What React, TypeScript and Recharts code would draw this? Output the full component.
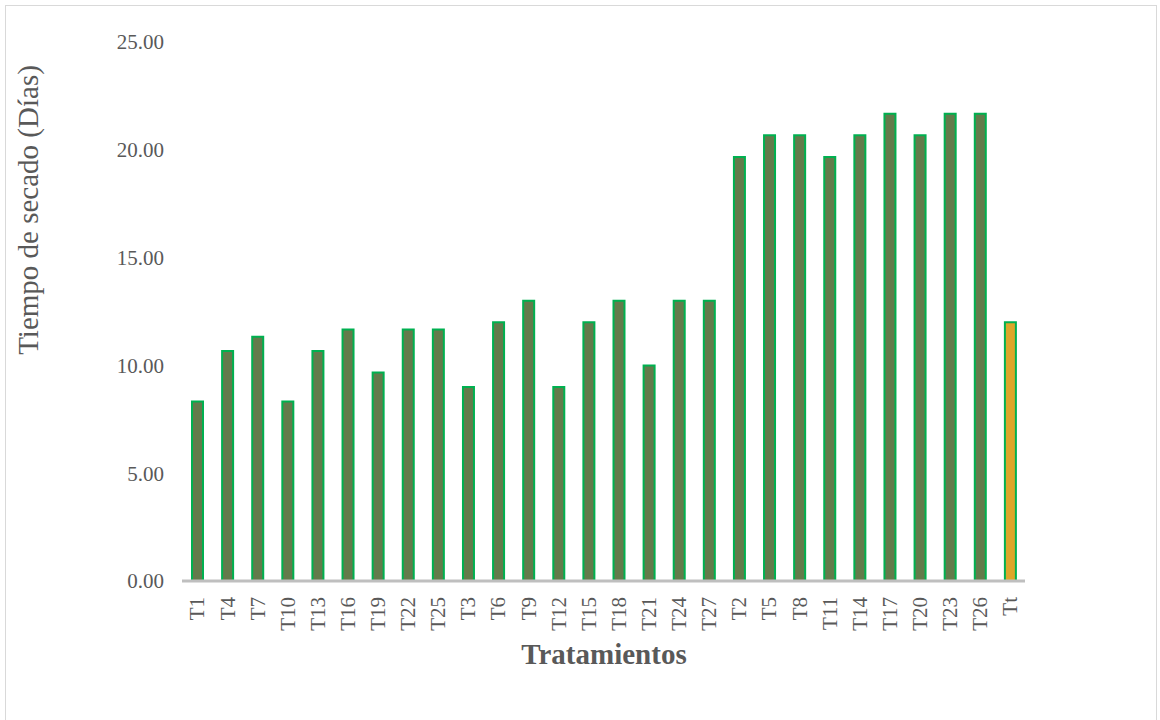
import React from "react";
import { BarChart, Bar, XAxis, YAxis, Cell } from "recharts";

const categories = [
  "T1", "T4", "T7", "T10", "T13", "T16", "T19", "T22", "T25",
  "T3", "T6", "T9", "T12", "T15", "T18", "T21", "T24", "T27",
  "T2", "T5", "T8", "T11", "T14", "T17", "T20", "T23", "T26", "Tt",
];

const dryingDays = [
  8.33, 10.67, 11.33, 8.33, 10.67, 11.67, 9.67, 11.67, 11.67,
  9.0, 12.0, 13.0, 9.0, 12.0, 13.0, 10.0, 13.0, 13.0,
  19.67, 20.67, 20.67, 19.67, 20.67, 21.67, 20.67, 21.67, 21.67, 12.0,
];

const yTicks = [0, 5, 10, 15, 20, 25];

const data = categories.map((name, i) => ({ name, value: dryingDays[i] }));

const FONT = '"Liberation Serif", "Times New Roman", serif';
const TEXT = "#595959";

const XTick = (props: any) => {
  const { x, y, payload } = props;
  return (
    <g transform={`translate(${x},${y})`}>
      <text
        transform="rotate(-90)"
        textAnchor="end"
        dy="0.35em"
        style={{ fontFamily: FONT, fontSize: 21, fill: TEXT }}
      >
        {payload.value}
      </text>
    </g>
  );
};

export default function App() {
  return (
    <div
      style={{
        position: "absolute",
        left: 5,
        top: 5,
        width: 1150,
        height: 716,
        border: "1px solid #d9d9d9",
        background: "#fff",
        fontFamily: FONT,
      }}
    >
      <BarChart
        width={1150}
        height={714}
        data={data}
        margin={{ top: 36, right: 131, left: 0, bottom: 0 }}
        barCategoryGap={0}
      >
        <XAxis
          dataKey="name"
          interval={0}
          height={139}
          tickLine={false}
          tickSize={8}
          tickMargin={8}
          axisLine={{ stroke: "#bfbfbf", strokeWidth: 3 }}
          tick={<XTick />}
          label={{
            content: () => (
              <text
                x={598}
                y={658}
                textAnchor="middle"
                style={{ fontFamily: FONT, fontSize: 29, fontWeight: "bold", fill: TEXT }}
              >
                Tratamientos
              </text>
            ),
          }}
        />
        <YAxis
          width={176}
          domain={[0, 25]}
          ticks={yTicks}
          interval={0}
          axisLine={false}
          tickLine={false}
          tickSize={10}
          tickMargin={8}
          tickFormatter={(v: number) => v.toFixed(2)}
          tick={{ fontFamily: FONT, fontSize: 21, fill: TEXT }}
          label={{
            content: () => (
              <text
                x={32}
                y={204}
                transform="rotate(-90, 32, 204)"
                textAnchor="middle"
                style={{ fontFamily: FONT, fontSize: 29, fill: TEXT }}
              >
                Tiempo de secado (Días)
              </text>
            ),
          }}
        />
        <Bar
          dataKey="value"
          barSize={11}
          stroke="#00b050"
          strokeWidth={2}
          isAnimationActive={false}
        >
          {data.map((d, i) => (
            <Cell key={i} fill={d.name === "Tt" ? "#dca62a" : "#637b4b"} />
          ))}
        </Bar>
      </BarChart>
    </div>
  );
}
